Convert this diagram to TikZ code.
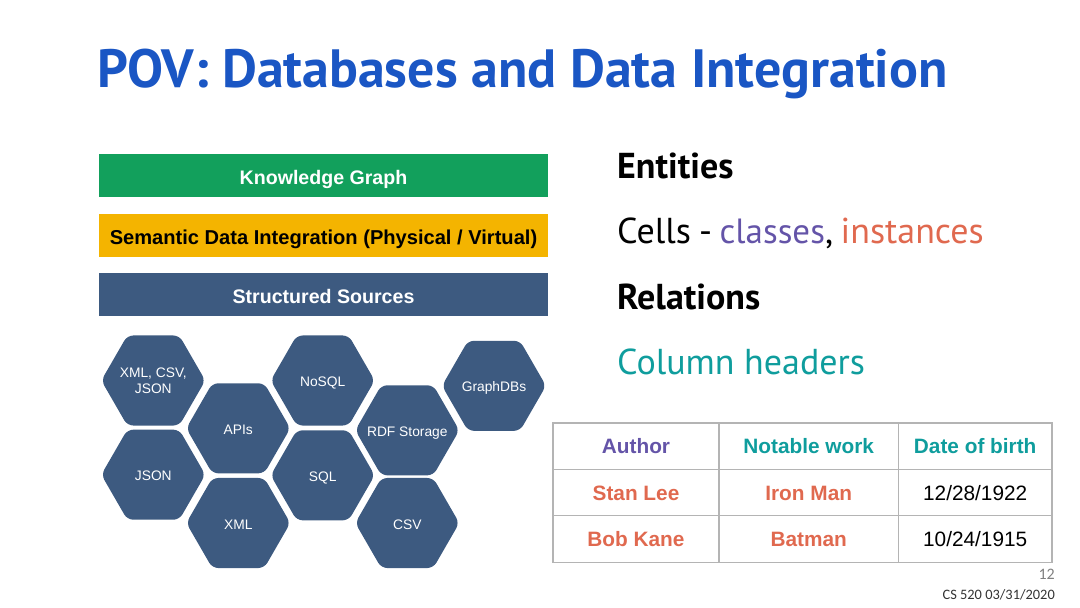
\documentclass[tikz,border=0pt]{standalone}
\usepackage{fontspec}
\usetikzlibrary{shapes.geometric}
\setmainfont{Liberation Sans}
\newfontfamily\ptfont{PT Sans}
\newfontfamily\footfont{Carlito}
\definecolor{TitleBlue}{HTML}{1A56C4}
\definecolor{Navy}{HTML}{3D5A80}
\definecolor{Green}{HTML}{12A05C}
\definecolor{Amber}{HTML}{F4B400}
\definecolor{Purple}{HTML}{6454A8}
\definecolor{Teal}{HTML}{0F9D9D}
\definecolor{Salmon}{HTML}{E0694F}
\definecolor{GridGray}{HTML}{B4B4B4}
\newcommand{\fsz}[1]{\fontsize{#1}{#1}\selectfont}
\begin{document}
\begin{tikzpicture}[x=1pt,y=-1pt,
bar/.style={fill=#1,minimum width=449pt,minimum height=43pt,inner sep=0pt,
  text height=18pt,text depth=0pt,font=\bfseries\fsz{19.6}},
hex/.style={regular polygon,regular polygon sides=6,minimum size=104pt,inner sep=0pt,
  fill=Navy,text=white,rounded corners=6pt,text height=12pt,text depth=0pt,
  font=\fontsize{13.8}{16}\selectfont},
head/.style={anchor=base west,inner sep=0pt,font=\ptfont\bfseries\fsz{36}},
line/.style={anchor=base west,inner sep=0pt,font=\ptfont\fsz{36}},
cell/.style={draw=GridGray,line width=1.2pt,minimum height=46.5pt,inner sep=0pt,
  text height=15pt,text depth=0pt,font=\fsz{20.8},text=#1},
cola/.style={cell=#1,minimum width=166pt},
colb/.style={cell=#1,minimum width=179.3pt},
colc/.style={cell=#1,minimum width=153.7pt},
bold/.style={font=\bfseries\fsz{20.8}}]
\useasboundingbox (0,0) rectangle (1080,608);
\node[anchor=base west,inner sep=0pt,text=TitleBlue,font=\ptfont\bfseries\fsz{53.9}] (title) at (97,87) {POV: Databases and Data Integration};
\path
(323.5,175.5) node[bar=Green,text=white] (kg) {Knowledge Graph}
(323.5,235.2) node[bar=Amber,text=black,font=\bfseries\fsz{20.1}] (sdi) {Semantic Data Integration (Physical / Virtual)}
(323.5,294.5) node[bar=Navy,text=white] (src) {Structured Sources}
;
\path[every node/.style={hex}]
(153.3,380.5) node[align=center,text height=,text depth=] (xcj) {\makebox[0pt]{XML, CSV,}\\\makebox[0pt]{JSON}}
(153.3,474.7) node (json) {JSON}
(238.3,428.3) node (apis) {APIs}
(238.3,523) node (xml) {XML}
(322.7,380.5) node (nosql) {NoSQL}
(322.7,475.3) node (sql) {SQL}
(407.3,430.3) node (rdf) {\makebox[0pt]{RDF Storage}}
(407.3,523) node (csv) {CSV}
(494,385.8) node (gdb) {\makebox[0pt]{GraphDBs}}
;
\node[head] (ent) at (617,178) {Entities};
\node[line] (cls) at (617,243) {Cells\hspace{-1.5pt} -\hspace{-2pt} \textcolor{Purple}{\fsz{35}classes},\hspace{-2pt} \textcolor{Salmon}{instances}};
\node[head] (rel) at (617,309) {Relations};
\node[line,text=Teal] (col) at (617,374) {Column headers};
\path
(636,446.2) node[cola=Purple,bold] (ta) {Author}
(808.7,446.2) node[colb=Teal,bold] (tb) {Notable work}
(975.2,446.2) node[colc=Teal,bold] (tc) {Date of birth}
(636,492.6) node[cola=Salmon,bold] (sl) {Stan Lee}
(808.7,492.6) node[colb=Salmon,bold] (im) {Iron Man}
(636,539) node[cola=Salmon,bold] (bk) {Bob Kane}
(808.7,539) node[colb=Salmon,bold] (bm) {Batman}
(975.2,492.6) node[colc=black] (d1) {12/28/1922}
(975.2,539) node[colc=black] (d2) {10/24/1915}
;
\node[anchor=base east,inner sep=0pt,text=gray,font=\footfont\fsz{16}] (pg) at (1055,579) {12};
\node[anchor=base east,inner sep=0pt,text=black!80,font=\footfont\fsz{14.4}] (ft) at (1055,599) {CS 520 03/31/2020};
\end{tikzpicture}
\end{document}
